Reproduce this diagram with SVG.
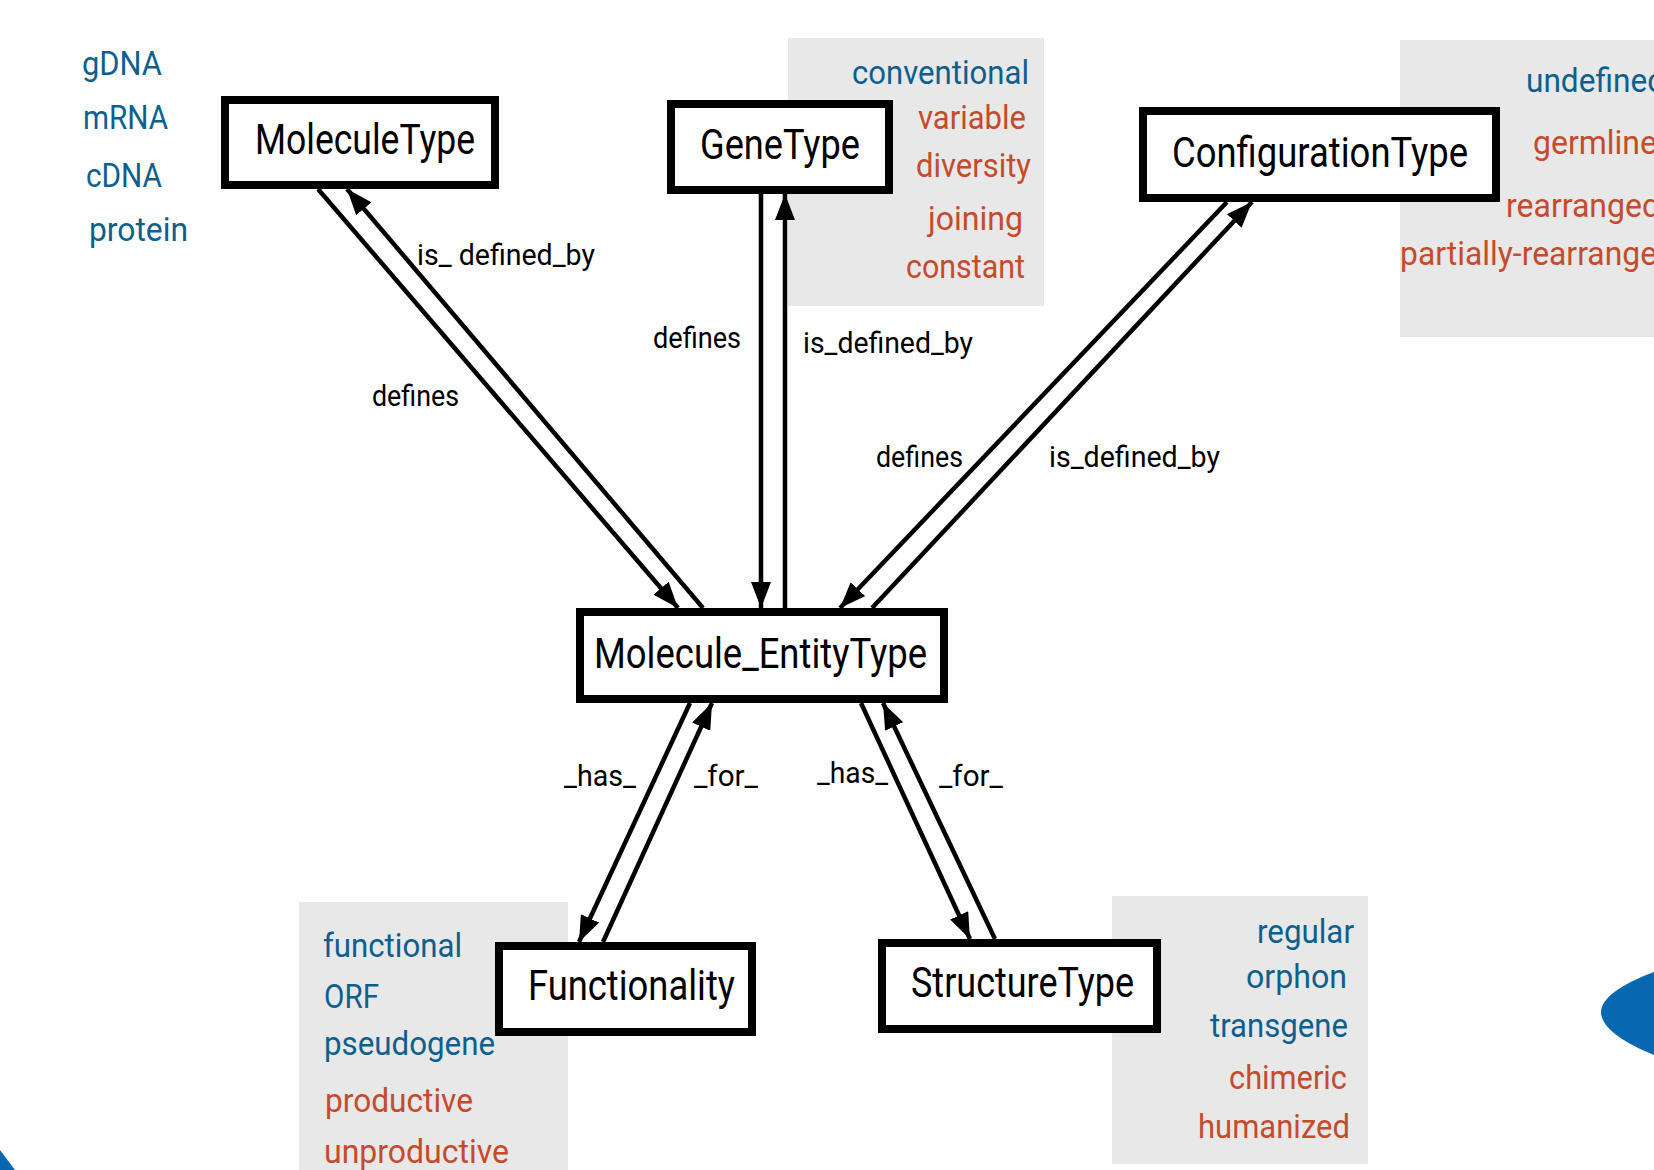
<svg xmlns="http://www.w3.org/2000/svg" width="1654" height="1170" viewBox="0 0 1654 1170">
<style>
.bg{fill:#e8e8e8}
.blue{fill:#0d5f8e;font-family:Roboto,"Liberation Sans",sans-serif;font-size:34px}
.red{fill:#c54b2b;font-family:Roboto,"Liberation Sans",sans-serif;font-size:34px}
.node rect{fill:#fff;stroke:#000;stroke-width:8}
.node text{fill:#000;font-family:Roboto,"Liberation Sans",sans-serif;font-size:42px}
.lbl{fill:#000;font-family:Roboto,"Liberation Sans",sans-serif;font-size:29px}
.conn{stroke:#000;stroke-width:4.5;fill:none;marker-end:url(#ah)}
</style>
<defs>
<marker id="ah" markerUnits="userSpaceOnUse" markerWidth="26" markerHeight="20" viewBox="0 0 26 20" refX="26" refY="10" orient="auto">
<path d="M0,0 L26,10 L0,20 z" fill="#000"/>
</marker>
</defs>
<rect width="1654" height="1170" fill="#fff"/>

<!-- decorative blue shapes -->
<path d="M1654,972 C1622,984 1601,998 1601,1012 C1601,1027 1622,1042 1654,1055 Z" fill="#0768b1"/>
<path d="M0,1150 L15,1170 L0,1170 Z" fill="#0768b1"/>

<!-- value lists -->
<g id="values-molecule">
<text class="blue" x="82" y="75" textLength="80" lengthAdjust="spacingAndGlyphs">gDNA</text>
<text class="blue" x="83" y="129" textLength="85" lengthAdjust="spacingAndGlyphs">mRNA</text>
<text class="blue" x="86" y="187" textLength="76" lengthAdjust="spacingAndGlyphs">cDNA</text>
<text class="blue" x="89" y="241" textLength="99" lengthAdjust="spacingAndGlyphs">protein</text>
</g>
<g id="values-gene">
<rect class="bg" x="788" y="38" width="256" height="268"/>
<text class="blue" x="1029" y="84" text-anchor="end" textLength="177" lengthAdjust="spacingAndGlyphs">conventional</text>
<text class="red" x="1026" y="129" text-anchor="end" textLength="108" lengthAdjust="spacingAndGlyphs">variable</text>
<text class="red" x="1031" y="177" text-anchor="end" textLength="115" lengthAdjust="spacingAndGlyphs">diversity</text>
<text class="red" x="1023" y="230" text-anchor="end" textLength="95" lengthAdjust="spacingAndGlyphs">joining</text>
<text class="red" x="1025" y="278" text-anchor="end" textLength="119" lengthAdjust="spacingAndGlyphs">constant</text>
</g>
<g id="values-configuration">
<rect class="bg" x="1400" y="40" width="254" height="297"/>
<text class="blue" x="1526" y="92" textLength="139" lengthAdjust="spacingAndGlyphs">undefined</text>
<text class="red" x="1533" y="154" textLength="124" lengthAdjust="spacingAndGlyphs">germline</text>
<text class="red" x="1506" y="217" textLength="154" lengthAdjust="spacingAndGlyphs">rearranged</text>
<text class="red" x="1400" y="265" textLength="275" lengthAdjust="spacingAndGlyphs">partially-rearranged</text>
</g>
<g id="values-functionality">
<rect class="bg" x="299" y="902" width="269" height="268"/>
<text class="blue" x="323" y="957" textLength="139" lengthAdjust="spacingAndGlyphs">functional</text>
<text class="blue" x="324" y="1008" textLength="55" lengthAdjust="spacingAndGlyphs">ORF</text>
<text class="blue" x="324" y="1055" textLength="171" lengthAdjust="spacingAndGlyphs">pseudogene</text>
<text class="red" x="325" y="1112" textLength="148" lengthAdjust="spacingAndGlyphs">productive</text>
<text class="red" x="324" y="1163" textLength="185" lengthAdjust="spacingAndGlyphs">unproductive</text>
</g>
<g id="values-structure">
<rect class="bg" x="1112" y="896" width="256" height="268"/>
<text class="blue" x="1354" y="943" text-anchor="end" textLength="97" lengthAdjust="spacingAndGlyphs">regular</text>
<text class="blue" x="1347" y="988" text-anchor="end" textLength="101" lengthAdjust="spacingAndGlyphs">orphon</text>
<text class="blue" x="1348" y="1037" text-anchor="end" textLength="138" lengthAdjust="spacingAndGlyphs">transgene</text>
<text class="red" x="1347" y="1089" text-anchor="end" textLength="118" lengthAdjust="spacingAndGlyphs">chimeric</text>
<text class="red" x="1350" y="1138" text-anchor="end" textLength="152" lengthAdjust="spacingAndGlyphs">humanized</text>
</g>

<!-- connectors -->
<g id="connectors">
<path class="conn" d="M318,189 L678,608"/>
<path class="conn" d="M703,608 L347,189"/>
<path class="conn" d="M761,194 L761,608"/>
<path class="conn" d="M785,608 L785,194"/>
<path class="conn" d="M1227,202 L840,608"/>
<path class="conn" d="M872,608 L1252,202"/>
<path class="conn" d="M690,703 L579,942"/>
<path class="conn" d="M603,942 L712,703"/>
<path class="conn" d="M861,703 L970,939"/>
<path class="conn" d="M995,939 L883,703"/>
<text class="lbl" x="417" y="265" textLength="178" lengthAdjust="spacingAndGlyphs">is_ defined_by</text>
<text class="lbl" x="372" y="406" textLength="87" lengthAdjust="spacingAndGlyphs">defines</text>
<text class="lbl" x="653" y="348" textLength="88" lengthAdjust="spacingAndGlyphs">defines</text>
<text class="lbl" x="803" y="353" textLength="170" lengthAdjust="spacingAndGlyphs">is_defined_by</text>
<text class="lbl" x="876" y="467" textLength="87" lengthAdjust="spacingAndGlyphs">defines</text>
<text class="lbl" x="1049" y="467" textLength="171" lengthAdjust="spacingAndGlyphs">is_defined_by</text>
<text class="lbl" x="564" y="786" textLength="72" lengthAdjust="spacingAndGlyphs">_has_</text>
<text class="lbl" x="694" y="786" textLength="64" lengthAdjust="spacingAndGlyphs">_for_</text>
<text class="lbl" x="817" y="783" textLength="71" lengthAdjust="spacingAndGlyphs">_has_</text>
<text class="lbl" x="939" y="786" textLength="64" lengthAdjust="spacingAndGlyphs">_for_</text>
</g>

<!-- nodes -->
<g id="MoleculeType" class="node">
<rect x="225" y="100" width="270" height="85"/>
<text x="255" y="154" textLength="220" lengthAdjust="spacingAndGlyphs">MoleculeType</text>
</g>
<g id="GeneType" class="node">
<rect x="671" y="104" width="218" height="86"/>
<text x="700" y="159" textLength="160" lengthAdjust="spacingAndGlyphs">GeneType</text>
</g>
<g id="ConfigurationType" class="node">
<rect x="1143" y="111" width="353" height="87"/>
<text x="1172" y="167" textLength="296" lengthAdjust="spacingAndGlyphs">ConfigurationType</text>
</g>
<g id="Molecule_EntityType" class="node">
<rect x="580" y="612" width="364" height="87"/>
<text x="594" y="668" textLength="333" lengthAdjust="spacingAndGlyphs">Molecule_EntityType</text>
</g>
<g id="Functionality" class="node">
<rect x="499" y="946" width="253" height="86"/>
<text x="528" y="1000" textLength="207" lengthAdjust="spacingAndGlyphs">Functionality</text>
</g>
<g id="StructureType" class="node">
<rect x="882" y="943" width="275" height="86"/>
<text x="911" y="997" textLength="223" lengthAdjust="spacingAndGlyphs">StructureType</text>
</g>
</svg>
